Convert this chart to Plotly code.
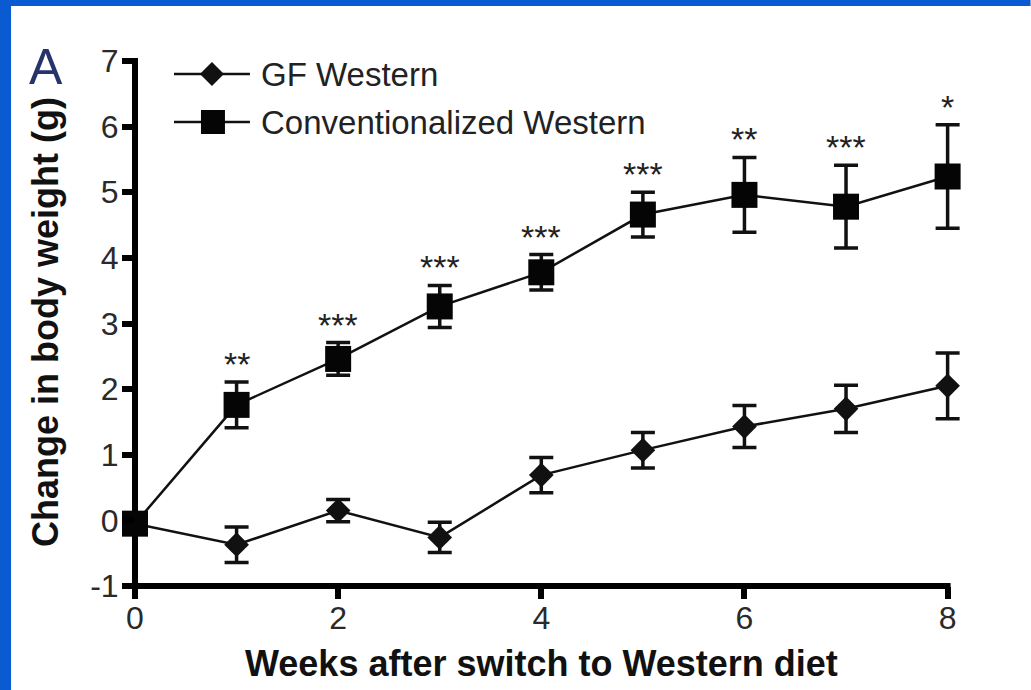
import plotly.graph_objects as go

# Weeks after the diet switch
weeks = [0, 1, 2, 3, 4, 5, 6, 7, 8]

# Germ-free mice on Western diet: mean change in body weight (g) and SEM
gf_mean = [-0.05, -0.37, 0.15, -0.26, 0.69, 1.07, 1.43, 1.70, 2.05]
gf_sem = [0.0, 0.27, 0.17, 0.23, 0.27, 0.27, 0.32, 0.36, 0.50]

# Conventionalized mice on Western diet: mean change in body weight (g) and SEM
conv_mean = [-0.05, 1.76, 2.46, 3.26, 3.78, 4.66, 4.96, 4.78, 5.24]
conv_sem = [0.0, 0.35, 0.25, 0.32, 0.27, 0.34, 0.57, 0.63, 0.79]

# Significance markers above the conventionalized series (weeks 1-8)
sig_labels = ["", "**", "***", "***", "***", "***", "**", "***", "*"]

x_ticks = [0, 2, 4, 6, 8]
x_ticktext = ["0", "2", "4", "6", "8"]
y_ticks = [-1, 0, 1, 2, 3, 4, 5, 6, 7]
y_ticktext = ["-1", "0", "1", "2", "3", "4", "5", "6", "7"]

FONT = "Liberation Sans, Arial, Helvetica, sans-serif"
INK = "#111111"

W, H = 1031, 690
X_MIN, X_MAX = 0, 8          # drawn extent of the x axis
X_VIEW = 8.25                # a little extra room so the last error cap is not clipped
Y_MIN, Y_MAX = -1, 7

ML, MT, MB = 135, 61, 104
AXIS_PX = 813                # pixel length of the 0..8 x axis
unit = AXIS_PX / (X_MAX - X_MIN)
PW = unit * (X_VIEW - X_MIN)
MR = W - ML - PW
PH = H - MT - MB


def px_x(px):
    return (px - ML) / PW


def px_y(py):
    return (H - MB - py) / PH


fig = go.Figure()

fig.add_trace(go.Scatter(
    x=weeks, y=gf_mean, name="GF Western", mode="lines+markers",
    line=dict(color=INK, width=2.5),
    marker=dict(symbol="diamond", size=19, color=INK),
    error_y=dict(type="data", array=gf_sem, visible=True,
                 color=INK, thickness=3.5, width=12),
    cliponaxis=False, showlegend=False,
))

fig.add_trace(go.Scatter(
    x=weeks, y=conv_mean, name="Conventionalized Western", mode="lines+markers",
    line=dict(color=INK, width=2.5),
    marker=dict(symbol="square", size=26, color="#050505"),
    error_y=dict(type="data", array=conv_sem, visible=True,
                 color=INK, thickness=3.5, width=12),
    cliponaxis=False, showlegend=False,
))

annotations = []

# asterisks sit a fixed gap above each upper error bar
for wk, m, e, lab in zip(weeks, conv_mean, conv_sem, sig_labels):
    if lab:
        annotations.append(dict(
            x=wk, y=m + e, xref="x", yref="y", text=lab, showarrow=False,
            yanchor="middle", yshift=18,
            font=dict(family=FONT, size=34, color="#222222"),
        ))

# axis titles
x_mid = px_x(ML + AXIS_PX / 2)
annotations.append(dict(
    x=x_mid, y=px_y(663), xref="paper", yref="paper",
    text="<b>Weeks after switch to Western diet</b>", showarrow=False,
    xanchor="center", yanchor="middle",
    font=dict(family=FONT, size=36, color="#111111"),
))
annotations.append(dict(
    x=px_x(45), y=px_y(322), xref="paper", yref="paper",
    text="<b>Change in body weight (g)</b>", showarrow=False, textangle=-90,
    xanchor="center", yanchor="middle",
    font=dict(family=FONT, size=36, color="#111111"),
))

# panel letter
annotations.append(dict(
    x=px_x(46), y=px_y(67), xref="paper", yref="paper",
    text="A", showarrow=False, xanchor="center", yanchor="middle",
    font=dict(family=FONT, size=50, color="#27336b"),
))

# legend labels
for py, label in [(74, "GF Western"), (122, "Conventionalized Western")]:
    annotations.append(dict(
        x=px_x(259), y=px_y(py), xref="paper", yref="paper",
        text=label, showarrow=False, xanchor="left", yanchor="middle",
        font=dict(family=FONT, size=33, color="#222222"),
    ))

shapes = []
AXW = 6
# axis lines, centred on the plot edges and ending at the last ticks
x_end = px_x(ML + AXIS_PX + AXW / 2)
shapes.append(dict(type="line", xref="paper", yref="paper",
                   x0=px_x(ML - 12), x1=x_end, y0=0, y1=0,
                   line=dict(color="#000000", width=AXW), layer="below"))
shapes.append(dict(type="line", xref="paper", yref="paper",
                   x0=0, x1=0, y0=px_y(H - MB + 12), y1=px_y(MT - AXW / 2),
                   line=dict(color="#000000", width=AXW), layer="below"))

# legend sample lines
for py in (74, 122):
    shapes.append(dict(type="line", xref="paper", yref="paper",
                       x0=px_x(174), x1=px_x(250), y0=px_y(py), y1=px_y(py),
                       line=dict(color=INK, width=2.5)))
# legend diamond
cx, cy, r = 212, 74, 12
shapes.append(dict(
    type="path", xref="paper", yref="paper",
    path=(f"M{px_x(cx - r)},{px_y(cy)} L{px_x(cx)},{px_y(cy - r)} "
          f"L{px_x(cx + r)},{px_y(cy)} L{px_x(cx)},{px_y(cy + r)} Z"),
    fillcolor=INK, line=dict(width=0),
))
# legend square
cx, cy, r = 213, 122, 12
shapes.append(dict(
    type="rect", xref="paper", yref="paper",
    x0=px_x(cx - r), x1=px_x(cx + r), y0=px_y(cy + r), y1=px_y(cy - r),
    fillcolor="#050505", line=dict(width=0),
))

# blue frame strips along the top and left edges
BLUE = "#0a5ad2"
shapes.append(dict(type="rect", xref="paper", yref="paper",
                   x0=px_x(0), x1=px_x(W), y0=px_y(6), y1=px_y(-2),
                   fillcolor=BLUE, line=dict(width=0), layer="above"))
shapes.append(dict(type="rect", xref="paper", yref="paper",
                   x0=px_x(-2), x1=px_x(11), y0=px_y(H + 2), y1=px_y(-2),
                   fillcolor=BLUE, line=dict(width=0), layer="above"))

axis_common = dict(
    showline=False,
    ticks="outside", ticklen=12, tickwidth=6, tickcolor="#000000",
    showgrid=False, zeroline=False,
    tickfont=dict(family=FONT, size=32, color="#2a2a2a"),
)

fig.update_layout(
    width=W, height=H,
    margin=dict(l=ML, r=MR, t=MT, b=MB, autoexpand=False),
    paper_bgcolor="white", plot_bgcolor="rgba(0,0,0,0)",
    xaxis=dict(range=[X_MIN, X_VIEW], tickvals=x_ticks, ticktext=x_ticktext,
               ticklabelstandoff=-8, **axis_common),
    yaxis=dict(range=[Y_MIN, Y_MAX], tickvals=y_ticks, ticktext=y_ticktext,
               ticklabelstandoff=-3, **axis_common),
    annotations=annotations, shapes=shapes,
    showlegend=False,
)

fig.write_html("out.html")
